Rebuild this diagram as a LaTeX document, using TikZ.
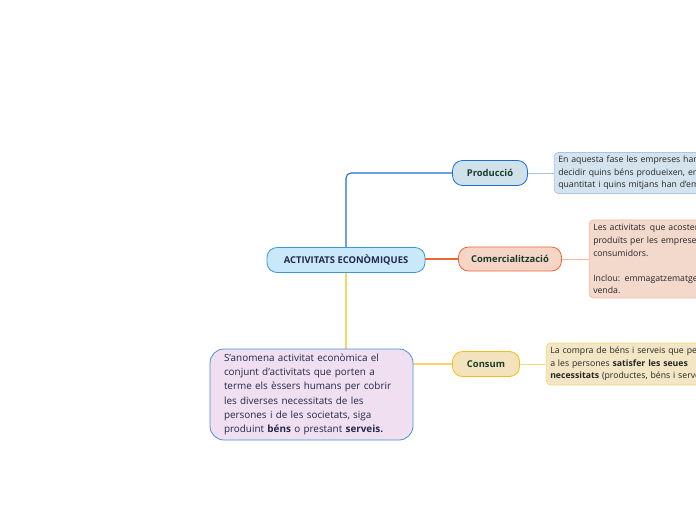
\documentclass[tikz,border=0pt]{standalone}
\usepackage{fontspec}
\setmainfont{Open Sans}
\usepackage{xcolor}
\usetikzlibrary{positioning}

\definecolor{centralfill}{HTML}{C9E8FA}
\definecolor{centraldraw}{HTML}{3A9AD9}
\definecolor{prodfill}{HTML}{CFE2EA}
\definecolor{proddraw}{HTML}{1F6ED4}
\definecolor{comercfill}{HTML}{F5D5C5}
\definecolor{comercdraw}{HTML}{F0643A}
\definecolor{consumfill}{HTML}{F2E3BD}
\definecolor{consumdraw}{HTML}{F9BC15}
\definecolor{descfill}{HTML}{EFDFF0}
\definecolor{descdraw}{HTML}{4A8FD4}
\definecolor{prodtfill}{HTML}{D3E4EE}
\definecolor{prodtdraw}{HTML}{A7C6E3}
\definecolor{comerctfill}{HTML}{F3D8CC}
\definecolor{comerctdraw}{HTML}{F4B89E}
\definecolor{consumtfill}{HTML}{F3E6C5}
\definecolor{consumtdraw}{HTML}{F8D77A}
\definecolor{topictext}{HTML}{1B3A2E}
\definecolor{desctext}{HTML}{22294A}

\begin{document}
\begin{tikzpicture}[
    x=1pt, y=-1pt,
    topic/.style={rectangle, rounded corners=10pt, draw, line width=0.8pt, minimum height=25pt, inner xsep=4pt, font=\fontsize{9.4}{11}\selectfont\bfseries, text=topictext},
    note/.style={rectangle, rounded corners=4pt, draw, line width=0.7pt, align=left, anchor=west, inner xsep=4pt, text width=212pt, font=\fontsize{8.7}{12.6}\selectfont, text=black!85},
    link/.style={draw, line width=1.1pt, rounded corners=5pt},
    thin link/.style={draw, line width=1pt}
]
\useasboundingbox (0,0) rectangle (696,520);
\clip (0,0) rectangle (696,520);

% central topic
\node [topic, fill=centralfill, draw=centraldraw, minimum width=158pt, text=desctext] (central) at (346,260) {ACTIVITATS ECONÒMIQUES};

% branches
\node [topic, fill=prodfill, draw=proddraw, minimum width=75pt] (prod) at (490,173) {Producció};
\node [topic, fill=comercfill, draw=comercdraw, minimum width=103pt, minimum height=24pt] (comerc) at (510,259) {Comercialització};
\node [topic, fill=consumfill, draw=consumdraw, minimum width=67pt] (consum) at (486,364) {Consum};

% connections
\draw [link, proddraw] (central.north) |- (prod.west);
\draw [link, comercdraw] (central.east |- comerc.west) -- (comerc.west);
\draw [link, consumdraw] (central.south) |- (consum.west);

% definition
\node [rectangle, rounded corners=14pt, draw=descdraw, fill=descfill, line width=0.8pt, minimum width=203pt, minimum height=91pt, inner xsep=14pt, text width=175pt, align=left, text=desctext, font=\fontsize{9.9}{14.3}\selectfont] (desc) at (311.5,394.5) {S'anomena activitat econòmica el\\conjunt d'activitats que porten a\\terme els èssers humans per cobrir\\les diverses necessitats de les\\persones i de les societats, siga\\produint \textbf{béns} o prestant \textbf{serveis.}};

% notes
\node [note, fill=prodtfill, draw=prodtdraw, minimum height=41pt, right=26pt of prod] (prodtext) {En aquesta fase les empreses han de\\decidir quins béns produeixen, en quina\\quantitat i quins mitjans han d'emprar.};
\node [note, fill=comerctfill, draw=comerctdraw, minimum height=78pt, right=27pt of comerc] (comerctext) {Les activitats\, que acosten els\\produïts per les empreses als\\consumidors.\\[12.4pt]Inclou: emmagatzematge, transport i\\venda.};
\node [note, fill=consumtfill, draw=consumtdraw, minimum height=42pt, right=26pt of consum] (consumtext) {La compra de béns i serveis que permet\\a les persones \textbf{satisfer les seues}\\\textbf{necessitats} (productes, béns i serveis).};

\draw [thin link, prodtdraw] (prod.east) -- (prodtext.west);
\draw [thin link, comerctdraw] (comerc.east) -- (comerctext.west);
\draw [thin link, consumtdraw] (consum.east) -- (consumtext.west);
\end{tikzpicture}
\end{document}
